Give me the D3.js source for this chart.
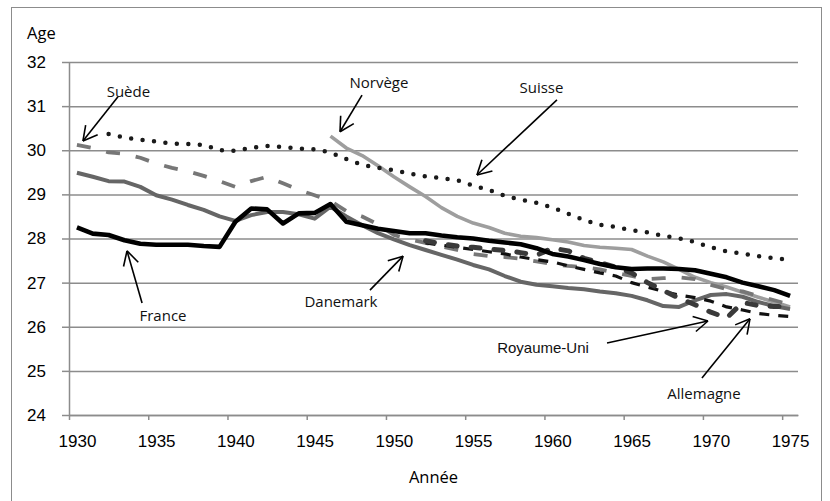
<!DOCTYPE html>
<html>
<head>
<meta charset="utf-8">
<script src="https://cdn.jsdelivr.net/npm/d3@7"></script>
<style>
  body { margin: 0; background: #fff; }
  svg { display: block; font-family: "Open Sans", sans-serif; }
  .frame { fill: none; stroke: #8c8c8c; stroke-width: 1; }
  .grid line { stroke: #8c8c8c; stroke-width: 1.5; }
  .grid path { display: none; }
  .axis path, .axis line { stroke: #8c8c8c; stroke-width: 1.5; }
  .axis text { font-size: 17px; fill: #000; }
  .series { fill: none; stroke-linejoin: round; }
  .note text { font-size: 15px; fill: #111; }
  .note line { stroke: #000; stroke-width: 1.6; }
</style>
</head>
<body>
<svg class="chart"></svg>
<script>
// DATA /////////////////////////////////////////
const yTicks = [24, 25, 26, 27, 28, 29, 30, 31, 32];
const xLabels = [1930, 1935, 1940, 1945, 1950, 1955, 1960, 1965, 1970, 1975];

// first year of each series, then one value per year
const franceStart = 1930;
const franceAges = [28.25, 28.11, 28.08, 27.96, 27.88, 27.86, 27.86, 27.86, 27.83, 27.81,
  28.38, 28.68, 28.66, 28.34, 28.57, 28.58, 28.78, 28.38, 28.3, 28.22,
  28.17, 28.12, 28.12, 28.07, 28.03, 28.0, 27.95, 27.91, 27.87, 27.78,
  27.65, 27.59, 27.51, 27.42, 27.35, 27.31, 27.32, 27.32, 27.31, 27.28,
  27.2, 27.12, 27.0, 26.92, 26.83, 26.7];

const danemarkStart = 1930;
const danemarkAges = [29.49, 29.4, 29.3, 29.29, 29.17, 28.98, 28.88, 28.76, 28.65, 28.5,
  28.4, 28.53, 28.6, 28.6, 28.55, 28.45, 28.72, 28.5, 28.3, 28.12,
  27.98, 27.85, 27.74, 27.63, 27.52, 27.4, 27.3, 27.15, 27.02, 26.95,
  26.92, 26.88, 26.85, 26.8, 26.76, 26.7, 26.6, 26.47, 26.45, 26.6,
  26.72, 26.74, 26.68, 26.56, 26.47, 26.4];

const suedeStart = 1930;
const suedeAges = [30.12, 30.05, 29.95, 29.92, 29.83, 29.7, 29.6, 29.52, 29.42, 29.3,
  29.17, 29.3, 29.4, 29.25, 29.1, 28.98, 28.85, 28.62, 28.5, 28.32,
  28.08, 27.98, 27.9, 27.82, 27.74, 27.65, 27.6, 27.58, 27.54, 27.48,
  27.42, 27.38, 27.35, 27.3, 27.22, 27.15, 27.08, 27.1, 27.12, 27.08,
  26.95, 26.85, 26.8, 26.7, 26.6, 26.5];

const suisseStart = 1932;
const suisseAges = [30.37, 30.29, 30.24, 30.2, 30.15, 30.14, 30.12, 30.0,
  29.99, 30.05, 30.1, 30.07, 30.04, 30.02, 29.95, 29.8, 29.67, 29.6,
  29.55, 29.47, 29.41, 29.37, 29.32, 29.2, 29.1, 28.97, 28.88, 28.81,
  28.7, 28.56, 28.42, 28.31, 28.26, 28.19, 28.14, 28.06, 28.0, 27.92,
  27.8, 27.71, 27.66, 27.6, 27.55, 27.52];

const norvegeStart = 1946;
const norvegeAges = [30.32, 30.05, 29.88, 29.65,
  29.4, 29.17, 28.95, 28.7, 28.5, 28.35, 28.25, 28.12, 28.05, 28.02,
  27.97, 27.92, 27.84, 27.8, 27.78, 27.75, 27.6, 27.47, 27.3, 27.12,
  27.0, 26.9, 26.78, 26.67, 26.56, 26.45];

const allemagneStart = 1952;
const allemagneAges = [27.9, 27.85, 27.8, 27.75, 27.7, 27.65, 27.58, 27.52,
  27.47, 27.38, 27.3, 27.22, 27.15, 27.0, 26.9, 26.8, 26.72, 26.66,
  26.58, 26.45, 26.38, 26.3, 26.26, 26.23];

const royaumeUniStart = 1952;
const royaumeUniAges = [27.95, 27.88, 27.83, 27.8, 27.76, 27.73, 27.68, 27.62,
  27.78, 27.72, 27.55, 27.45, 27.35, 27.22, 27.0, 26.82, 26.65, 26.5,
  26.33, 26.2, 26.55, 26.48, 26.46, 26.45];

// annotations: label centre, arrow start, arrow tip (year, age)
const notes = [
  { text: "Suède", at: [1933.25, 31.34], from: [1932.59, 31.21], to: [1930.38, 30.21] },
  { text: "Norvège", at: [1949.06, 31.55], from: [1947.99, 31.25], to: [1946.6, 30.42] },
  { text: "Suisse", at: [1959.31, 31.43], from: [1960.29, 31.14], to: [1955.24, 29.44] },
  { text: "France", at: [1935.43, 26.27], from: [1934.11, 26.54], to: [1933.16, 27.72] },
  { text: "Danemark", at: [1946.66, 26.58], from: [1948.49, 26.83], to: [1950.58, 27.6] },
  { text: "Royaume-Uni", at: [1959.41, 25.54], from: [1963.45, 25.63], to: [1969.82, 26.13], arial: true },
  { text: "Allemagne", at: [1969.57, 24.5], from: [1969.44, 24.84], to: [1972.47, 26.18] },
];

// STYLES ///////////////////////////////////////
const series = [
  { start: norvegeStart, values: norvegeAges, color: "#9e9e9e", w: 3.6, dash: null, cap: "butt" },
  { start: danemarkStart, values: danemarkAges, color: "#666", w: 4, dash: null, cap: "butt" },
  { start: suedeStart, values: suedeAges, color: "#777", w: 3.8, dash: "14,16", cap: "butt" },
  { start: allemagneStart, values: allemagneAges, color: "#111", w: 3.2, dash: "10,9", cap: "butt" },
  { start: royaumeUniStart, values: royaumeUniAges, color: "#3a3a3a", w: 5, dash: "9,14", cap: "round" },
  { start: franceStart, values: franceAges, color: "#000", w: 4.6, dash: null, cap: "butt" },
  { start: suisseStart, values: suisseAges, color: "#1a1a1a", w: 4.5, dash: "0,11.5", cap: "round" },
];

// DEFINITIONS //////////////////////////////////
const margin = { top: 62, right: 32, bottom: 86, left: 69 };
const width = 830 - margin.left - margin.right;
const height = 501 - margin.top - margin.bottom;

const svg = d3.select(".chart").attr("width", 830).attr("height", 501);

svg.append("rect").attr("class", "frame")
  .attr("x", 11.5).attr("y", 7.5).attr("width", 810).attr("height", 520);

const chartG = svg.append("g")
  .attr("transform", `translate(${margin.left}, ${margin.top})`);

// category axis: each year sits in the middle of its slot
const x = d3.scaleLinear().domain([1929.5, 1975.5]).range([0, width]);
const y = d3.scaleLinear().domain([24, 32]).range([height, 0]);

// GRID + AXES //////////////////////////////////
chartG.append("g").attr("class", "grid")
  .call(d3.axisLeft(y).tickValues(yTicks).tickSize(-width).tickFormat(""));

chartG.append("g").attr("class", "axis")
  .call(d3.axisLeft(y).tickValues(yTicks).tickSize(7).tickSizeOuter(0).tickPadding(16));

// tick marks on slot boundaries
chartG.append("g").attr("class", "axis")
  .attr("transform", `translate(0, ${height})`)
  .call(d3.axisBottom(x).tickValues(xLabels.map((d) => d - 0.5))
    .tickSize(5).tickSizeOuter(0).tickFormat(""));

// labels in the middle of the slot
const xLab = chartG.append("g").attr("class", "axis")
  .attr("transform", `translate(0, ${height})`)
  .call(d3.axisBottom(x).tickValues(xLabels).tickSize(0).tickPadding(20).tickFormat(d3.format("d")));
xLab.select(".domain").remove();

svg.append("text").attr("x", 27).attr("y", 39)
  .style("font-size", "16.5px").text("Age");

svg.append("text").attr("x", margin.left + width / 2).attr("y", 483)
  .attr("text-anchor", "middle").style("font-size", "16.5px").text("Année");

// LINES ////////////////////////////////////////
const line = d3.line()
  .x((d) => x(d.year))
  .y((d) => y(d.age));

series.forEach((s) => {
  const pts = s.values.map((v, i) => ({ year: s.start + i, age: v }));
  chartG.append("path")
    .attr("class", "series")
    .attr("d", line(pts))
    .attr("stroke", s.color)
    .attr("stroke-width", s.w)
    .attr("stroke-dasharray", s.dash)
    .attr("stroke-linecap", s.cap);
});

// ANNOTATIONS //////////////////////////////////
const noteG = chartG.append("g").attr("class", "note");

notes.forEach((n) => {
  const x0 = x(n.from[0]), y0 = y(n.from[1]);
  const x1 = x(n.to[0]), y1 = y(n.to[1]);
  noteG.append("line").attr("x1", x0).attr("y1", y0).attr("x2", x1).attr("y2", y1);
  const ang = Math.atan2(y0 - y1, x0 - x1);
  [-0.5, 0.5].forEach((da) => {
    noteG.append("line")
      .attr("x1", x1).attr("y1", y1)
      .attr("x2", x1 + 16 * Math.cos(ang + da))
      .attr("y2", y1 + 16 * Math.sin(ang + da));
  });
  noteG.append("text")
    .attr("x", x(n.at[0])).attr("y", y(n.at[1]))
    .attr("text-anchor", "middle")
    .attr("dominant-baseline", "central")
    .style("font-family", n.arial ? "'Liberation Sans', Arial, sans-serif" : null)
    .text(n.text);
});
</script>
</body>
</html>
